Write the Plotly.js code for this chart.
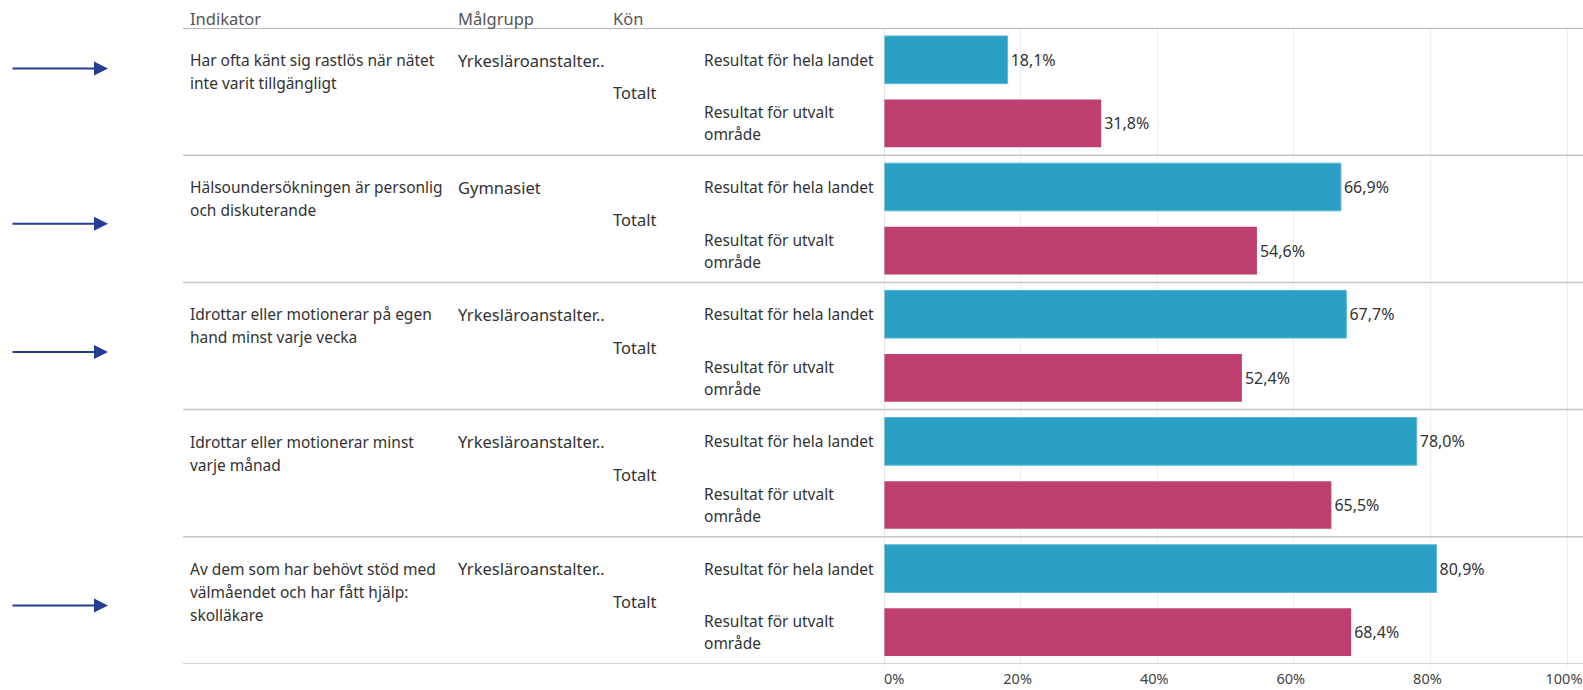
<!DOCTYPE html>
<html>
<head>
<meta charset="utf-8">
<script src="https://cdn.plot.ly/plotly-3.0.1.min.js"></script>
<style>html,body{margin:0;padding:0;background:#fff;}#chart{width:1583px;height:690px;}</style>
</head>
<body>
<div id="chart"></div>
<script>
const indicators = [
  ["Har ofta känt sig rastlös när nätet", "inte varit tillgängligt"],
  ["Hälsoundersökningen är personlig", "och diskuterande"],
  ["Idrottar eller motionerar på egen", "hand minst varje vecka"],
  ["Idrottar eller motionerar minst", "varje månad"],
  ["Av dem som har behövt stöd med", "välmåendet och har fått hjälp:", "skolläkare"]
];
const malgrupp = ["Yrkesläroanstalter..", "Gymnasiet", "Yrkesläroanstalter..", "Yrkesläroanstalter..", "Yrkesläroanstalter.."];
const kon = ["Totalt", "Totalt", "Totalt", "Totalt", "Totalt"];
const headers = ["Indikator", "Målgrupp", "Kön"];
const seriesLabels = [["Resultat för hela landet"], ["Resultat för utvalt", "område"]];
const helaLandet = [18.1, 66.9, 67.7, 78.0, 80.9];
const utvaltOmrade = [31.8, 54.6, 52.4, 65.5, 68.4];
const xTickVals = [0, 20, 40, 60, 80, 100];
const xTickText = ["\u00a0\u00a0\u00a0\u00a0\u00a0\u00a0\u00a00%", "20%", "40%", "60%", "80%", "100%"];
const arrowRows = [0, 1, 2, 4];

const W = 1583;
const px = v => v / W;
const fmt = v => v.toFixed(1).replace('.', ',') + '%';
const n = helaLandet.length;
const FONT = '"Noto Sans", "Open Sans", sans-serif';
const TXT = '#333333';
const HEAD_SIZE = 16.5;
const IND_SIZE = 15.5;
const COL_SIZE = 16.5;
const RES_SIZE = 15.5;

const blueY = helaLandet.map((_, i) => 2 * i + 0.5);
const pinkY = utvaltOmrade.map((_, i) => 2 * i + 1.5);

const traces = [
  {
    type: 'bar', orientation: 'h', x: helaLandet, y: blueY, width: 0.75,
    marker: {color: '#2aa0c4', line: {color: '#5cbad6', width: 1}},
    text: helaLandet.map(fmt), textposition: 'outside', cliponaxis: false,
    textfont: {family: FONT, size: 16, color: TXT},
    hoverinfo: 'x', name: seriesLabels[0].join(' ')
  },
  {
    type: 'bar', orientation: 'h', x: utvaltOmrade, y: pinkY, width: 0.75,
    marker: {color: '#be3f70'},
    text: utvaltOmrade.map(fmt), textposition: 'outside', cliponaxis: false,
    textfont: {family: FONT, size: 16, color: TXT},
    hoverinfo: 'x', name: seriesLabels[1].join(' ')
  }
];

const ann = [];
const colX = [188, 456, 611];
headers.forEach((h, j) => ann.push({
  text: h, xref: 'paper', yref: 'y', x: px(colX[j]), y: 0, yshift: 10,
  xanchor: 'left', yanchor: 'middle', showarrow: false,
  font: {family: FONT, size: HEAD_SIZE, color: '#555'}
}));
for (let i = 0; i < n; i++) {
  indicators[i].forEach((line, k) => ann.push({
    text: line, xref: 'paper', yref: 'y', x: px(colX[0]), y: 2 * i, yshift: -(32 + 23 * k),
    xanchor: 'left', yanchor: 'middle', showarrow: false,
    font: {family: FONT, size: IND_SIZE, color: TXT}
  }));
  ann.push({
    text: malgrupp[i], xref: 'paper', yref: 'y', x: px(colX[1]), y: 2 * i, yshift: -32,
    xanchor: 'left', yanchor: 'middle', showarrow: false,
    font: {family: FONT, size: COL_SIZE, color: TXT}
  });
  ann.push({
    text: kon[i], xref: 'paper', yref: 'y', x: px(colX[2]), y: 2 * i + 1, yshift: -1,
    xanchor: 'left', yanchor: 'middle', showarrow: false,
    font: {family: FONT, size: COL_SIZE, color: TXT}
  });
  ann.push({
    text: seriesLabels[0][0], xref: 'paper', yref: 'y', x: px(702), y: blueY[i],
    xanchor: 'left', yanchor: 'middle', showarrow: false,
    font: {family: FONT, size: RES_SIZE, color: TXT}
  });
  seriesLabels[1].forEach((line, k) => ann.push({
    text: line, xref: 'paper', yref: 'y', x: px(702), y: pinkY[i], yshift: 11 - 22 * k,
    xanchor: 'left', yanchor: 'middle', showarrow: false,
    font: {family: FONT, size: RES_SIZE, color: TXT}
  }));
}
// arrows (decorative overlay)
const arrowShift = {0: -23, 1: 5, 2: 6, 4: 5};
arrowRows.forEach(r => ann.push({
  text: '', xref: 'paper', yref: 'y', x: px(108), y: 2 * r + 1, yshift: -arrowShift[r],
  ax: -97, ay: 0, axref: 'pixel', ayref: 'pixel', showarrow: true,
  arrowhead: 2, arrowsize: 1.4, arrowwidth: 2, arrowcolor: '#253d92'
}));

const shapes = [];
shapes.push({type: 'line', xref: 'paper', yref: 'y', x0: px(183), x1: 1, y0: 0, y1: 0,
  line: {color: '#9e9e9e', width: 1.5}});
for (let i = 1; i <= n; i++) {
  shapes.push({type: 'line', xref: 'paper', yref: 'y', x0: px(183), x1: 1, y0: 2 * i, y1: 2 * i,
    line: {color: '#c6c6c6', width: 1.5}});
}
shapes.push({type: 'line', xref: 'x', yref: 'y', x0: 0, x1: 0, y0: 0, y1: 2 * n,
  line: {color: '#cfcfcf', width: 1}});

const xLeft = 884, xRight = 1567;
const xMax = 100 * (W - xLeft) / (xRight - xLeft);

const layout = {
  width: 1583, height: 690,
  margin: {l: 0, r: 0, t: 28, b: 26, pad: 0},
  paper_bgcolor: '#fff', plot_bgcolor: '#fff',
  showlegend: false, barmode: 'overlay',
  xaxis: {
    domain: [px(xLeft), 1], range: [0, xMax], tickvals: xTickVals, ticktext: xTickText,
    showgrid: true, gridcolor: '#efefef', gridwidth: 1, zeroline: false, showline: false,
    ticks: 'outside', ticklen: 2, tickcolor: '#e8e8e8', ticklabeloverflow: 'allow',
    ticklabelshift: -3,
    tickfont: {family: FONT, size: 14.5, color: '#444'}, fixedrange: true
  },
  yaxis: {
    range: [2 * n, 0], showgrid: false, zeroline: false, showticklabels: false,
    showline: false, ticks: '', fixedrange: true
  },
  annotations: ann, shapes: shapes
};

Plotly.newPlot('chart', traces, layout, {displayModeBar: false, staticPlot: true});
</script>
</body>
</html>
